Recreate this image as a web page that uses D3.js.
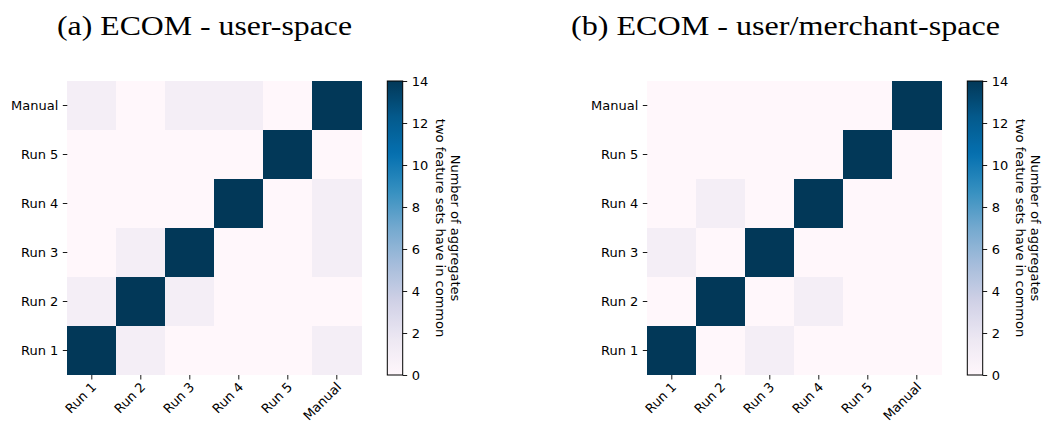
<!DOCTYPE html>
<html>
<head>
<meta charset="utf-8">
<script src="https://cdn.jsdelivr.net/npm/d3@7"></script>
<style>
  html, body { margin: 0; padding: 0; background: #fff; }
  svg { display: block; }
  .tick-label { font-family: "DejaVu Sans", sans-serif; font-size: 13px; fill: #000; }
  .title { font-family: "Liberation Serif", serif; font-size: 28px; fill: #000; }
</style>
</head>
<body>
<svg id="chart" width="1043" height="423"></svg>
<script>
// Feature-set labels on both axes
const runs = ["Run 1", "Run 2", "Run 3", "Run 4", "Run 5", "Manual"];

// Shared aggregates between feature sets; rows follow `runs` order (Run 1 first)
const userSpace = [
  [14, 1, 0, 0, 0, 1],
  [1, 14, 1, 0, 0, 0],
  [0, 1, 14, 0, 0, 1],
  [0, 0, 0, 14, 0, 1],
  [0, 0, 0, 0, 14, 0],
  [1, 0, 1, 1, 0, 14]
];
const userMerchantSpace = [
  [14, 0, 1, 0, 0, 0],
  [0, 14, 0, 1, 0, 0],
  [1, 0, 14, 0, 0, 0],
  [0, 1, 0, 14, 0, 0],
  [0, 0, 0, 0, 14, 0],
  [0, 0, 0, 0, 0, 14]
];

const panelTitles = ["(a) ECOM - user-space", "(b) ECOM - user/merchant-space"];
const colorbarTicks = [0, 2, 4, 6, 8, 10, 12, 14];
const colorbarLabel = ["Number of aggregates", "two feature sets have in common"];
const valueMax = 14;

// PuBu sequential colormap, linear between its nine anchor colours
const puBu = ["#fff7fb", "#ece7f2", "#d0d1e6", "#a6bddb", "#74a9cf", "#3690c0", "#0570b0", "#045a8d", "#023858"];
const color = d3.scaleLinear()
  .domain(puBu.map((_, i) => i / (puBu.length - 1) * valueMax))
  .range(puBu)
  .interpolate(d3.interpolateRgb)
  .clamp(true);

const svg = d3.select("#chart");

// Layout of a single panel; the second panel is shifted right
const panelOffset = 580;
const hm = { x: 67.3, y: 81, size: 294 };
const cb = { x: 387.3, w: 15.4 };
const tickLen = 4.5, tickPad = 4.5;

// Gradient for the colourbars
const defs = svg.append("defs");
const grad = defs.append("linearGradient")
  .attr("id", "pubu-grad")
  .attr("x1", 0).attr("y1", 1).attr("x2", 0).attr("y2", 0);
d3.range(0, 1.0001, 0.02).forEach(t => {
  grad.append("stop").attr("offset", t).attr("stop-color", color(t * valueMax));
});

const titleLayout = [
  { x: 57, width: 295 },
  { x: 571, width: 429 }
];

function drawPanel(matrix, index) {
  const ox = index * panelOffset;
  const g = svg.append("g").attr("transform", `translate(${ox},0)`);

  const x = d3.scaleBand().domain(runs).range([hm.x, hm.x + hm.size]);
  const y = d3.scaleBand().domain(runs).range([hm.y + hm.size, hm.y]);

  const cells = [];
  matrix.forEach((row, ri) => row.forEach((v, ci) => {
    cells.push({ row: runs[ri], col: runs[ci], value: v });
  }));

  g.append("g").selectAll("rect")
    .data(cells)
    .join("rect")
    .attr("x", d => x(d.col))
    .attr("y", d => y(d.row))
    .attr("width", x.bandwidth() + 0.3)
    .attr("height", y.bandwidth() + 0.3)
    .attr("fill", d => color(d.value))
    .attr("shape-rendering", "crispEdges");

  // Left axis
  const yAxis = g.append("g")
    .attr("transform", `translate(${hm.x},0)`)
    .call(d3.axisLeft(y).tickSize(tickLen).tickPadding(tickPad));
  yAxis.select(".domain").remove();
  yAxis.attr("font-size", null).attr("font-family", null);
  yAxis.selectAll(".tick line").attr("stroke", "#000").attr("stroke-width", 0.9);
  yAxis.selectAll(".tick text").attr("class", "tick-label");

  // Bottom axis with rotated labels anchored at their top-right corner
  const xAxis = g.append("g")
    .attr("transform", `translate(0,${hm.y + hm.size})`)
    .call(d3.axisBottom(x).tickSize(tickLen).tickPadding(tickPad));
  xAxis.select(".domain").remove();
  xAxis.attr("font-size", null).attr("font-family", null);
  xAxis.selectAll(".tick line").attr("stroke", "#000").attr("stroke-width", 0.9);
  xAxis.selectAll(".tick text")
    .attr("class", "tick-label")
    .attr("y", null).attr("dy", null)
    .attr("text-anchor", "end")
    .attr("transform", `translate(0,${tickLen + tickPad - 1.5}) rotate(-45) translate(0,7.5)`);

  // Colourbar
  const cbx = cb.x;
  const cy = d3.scaleLinear().domain([0, valueMax]).range([hm.y + hm.size, hm.y]);
  g.append("rect")
    .attr("x", cbx).attr("y", hm.y)
    .attr("width", cb.w).attr("height", hm.size)
    .attr("fill", "url(#pubu-grad)")
    .attr("stroke", "#000").attr("stroke-width", 1);
  const cAxis = g.append("g")
    .attr("transform", `translate(${cbx + cb.w},0)`)
    .call(d3.axisRight(cy).tickValues(colorbarTicks).tickSize(tickLen).tickPadding(tickPad));
  cAxis.select(".domain").remove();
  cAxis.attr("font-size", null).attr("font-family", null);
  cAxis.selectAll(".tick line").attr("stroke", "#000").attr("stroke-width", 0.9);
  cAxis.selectAll(".tick text").attr("class", "tick-label");

  // Colourbar label, rotated to read downward
  const labelCy = hm.y + hm.size / 2;
  const lab = g.append("text")
    .attr("class", "tick-label")
    .attr("text-anchor", "middle")
    .attr("transform", `translate(${cbx + 64},${labelCy}) rotate(90)`);
  lab.selectAll("tspan")
    .data(colorbarLabel)
    .join("tspan")
    .attr("x", 0)
    .attr("y", (d, i) => i * 15)
    .text(d => d);

  // Panel title
  svg.append("text")
    .attr("class", "title")
    .attr("x", titleLayout[index].x)
    .attr("y", 35)
    .attr("textLength", titleLayout[index].width)
    .attr("lengthAdjust", "spacingAndGlyphs")
    .text(panelTitles[index]);
}

drawPanel(userSpace, 0);
drawPanel(userMerchantSpace, 1);
</script>
</body>
</html>
